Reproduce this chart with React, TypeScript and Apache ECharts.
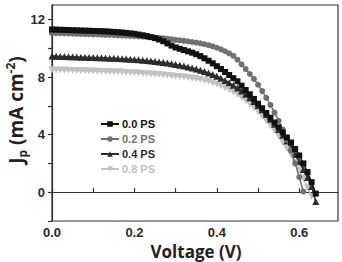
import React, { useEffect, useRef } from "react";
import * as echarts from "echarts";

const voltage = [
  0.0, 0.01, 0.02, 0.03, 0.04, 0.05, 0.06, 0.07, 0.08, 0.09,
  0.1, 0.11, 0.12, 0.13, 0.14, 0.15, 0.16, 0.17, 0.18, 0.19,
  0.2, 0.21, 0.22, 0.23, 0.24, 0.25, 0.26, 0.27, 0.28, 0.29,
  0.3, 0.31, 0.32, 0.33, 0.34, 0.35, 0.36, 0.37, 0.38, 0.39,
  0.4, 0.41, 0.42, 0.43, 0.44, 0.45, 0.46, 0.47, 0.48, 0.49,
  0.5, 0.51, 0.52, 0.53, 0.54, 0.55, 0.56, 0.57, 0.58, 0.59,
  0.6, 0.61, 0.62, 0.63, 0.64,
];

const ps00 = [
  11.3, 11.29, 11.28, 11.27, 11.26, 11.25, 11.24, 11.23, 11.22, 11.21,
  11.2, 11.19, 11.18, 11.17, 11.15, 11.13, 11.11, 11.09, 11.06, 11.03,
  11.0, 10.95, 10.9, 10.84, 10.77, 10.7, 10.6, 10.48, 10.33, 10.18,
  10.05, 9.96, 9.87, 9.78, 9.69, 9.58, 9.45, 9.3, 9.13, 8.95,
  8.75, 8.55, 8.35, 8.14, 7.92, 7.7, 7.4, 7.1, 6.8, 6.48,
  6.15, 5.83, 5.5, 5.17, 4.84, 4.5, 4.15, 3.8, 3.45, 3.0,
  2.55, 2.0, 1.4, 0.7, -0.1,
];

const ps02 = [
  11.05, 11.04, 11.04, 11.03, 11.02, 11.01, 11.0, 10.99, 10.98, 10.97,
  10.96, 10.95, 10.94, 10.93, 10.92, 10.91, 10.89, 10.88, 10.87, 10.85,
  10.84, 10.82, 10.8, 10.78, 10.76, 10.74, 10.72, 10.69, 10.66, 10.62,
  10.58, 10.55, 10.51, 10.47, 10.43, 10.39, 10.34, 10.28, 10.21, 10.13,
  10.03, 9.92, 9.79, 9.64, 9.47, 9.2, 8.88, 8.55, 8.21, 7.86,
  7.46, 7.02, 6.55, 6.06, 5.53, 4.96, 4.34, 3.65, 2.88, 2.0,
  1.05, 0.05,
];

const ps04 = [
  9.45, 9.44, 9.43, 9.42, 9.41, 9.4, 9.39, 9.38, 9.37, 9.36,
  9.35, 9.34, 9.33, 9.32, 9.31, 9.3, 9.28, 9.27, 9.25, 9.23,
  9.21, 9.19, 9.17, 9.14, 9.11, 9.08, 9.05, 9.01, 8.97, 8.92,
  8.87, 8.82, 8.76, 8.7, 8.63, 8.55, 8.47, 8.38, 8.28, 8.17,
  8.05, 7.91, 7.76, 7.6, 7.42, 7.23, 7.02, 6.8, 6.56, 6.3,
  6.02, 5.72, 5.4, 5.07, 4.72, 4.35, 3.96, 3.55, 3.1, 2.62,
  2.12, 1.58, 1.02, 0.4, -0.65,
];

const ps08 = [
  8.5, 8.49, 8.49, 8.48, 8.47, 8.46, 8.45, 8.44, 8.43, 8.42,
  8.41, 8.4, 8.39, 8.38, 8.37, 8.36, 8.35, 8.34, 8.32, 8.31,
  8.29, 8.27, 8.25, 8.23, 8.21, 8.19, 8.17, 8.14, 8.12, 8.09,
  8.06, 8.03, 8.0, 7.96, 7.92, 7.87, 7.82, 7.76, 7.68, 7.6,
  7.5, 7.39, 7.26, 7.12, 6.96, 6.78, 6.58, 6.36, 6.12, 5.86,
  5.58, 5.28, 4.96, 4.62, 4.26, 3.88, 3.47, 3.04, 2.57, 2.07,
  1.54, 0.96, 0.3, -0.3,
];

const seriesNames = ["0.0 PS", "0.2 PS", "0.4 PS", "0.8 PS"];
const seriesValues = [ps00, ps02, ps04, ps08];
const xTickLabels = ["0.0", "0.2", "0.4", "0.6"];
const yTickLabels = ["0", "4", "8", "12"];

const colors = ["#111111", "#707070", "#2c2c2c", "#c2c2c2"];
const legendTextColors = ["#111111", "#707070", "#2c2c2c", "#c0c0c0"];
const symbols = ["rect", "circle", "triangle", "triangle"];
const rotates = [0, 0, 0, 180];
const sizes = [6, 6, 7, 7];

export default function App() {
  const ref = useRef<HTMLDivElement>(null);
  useEffect(() => {
    if (!ref.current) return;
    const chart = echarts.init(ref.current, undefined, { renderer: "svg" });
    const tickFont = {
      fontFamily: "Liberation Sans",
      fontWeight: "bold" as const,
      fontSize: 13,
      lineHeight: 13,
      color: "#2a2a2a",
    };
    const series: any[] = seriesNames.map((name, i) => ({
      name,
      type: "line",
      data: seriesValues[i].map((j, k) => [voltage[k], j]),
      symbol: symbols[i],
      symbolRotate: rotates[i],
      symbolSize: sizes[i],
      showAllSymbol: true,
      lineStyle: { color: colors[i], width: 1.5 },
      itemStyle: { color: colors[i] },
      z: 10 - i,
    }));
    series[0].markLine = {
      silent: true,
      symbol: ["none", "none"],
      label: { show: false },
      lineStyle: { color: "#333", width: 1.2, type: "solid" },
      data: [{ yAxis: 0 }],
      z: 1,
    };
    chart.setOption({
      animation: false,
      backgroundColor: "#fff",
      grid: {
        left: 52,
        right: 4,
        top: 5,
        bottom: 41,
        show: true,
        borderColor: "#333",
        borderWidth: 1.2,
      },
      legend: {
        orient: "vertical",
        left: 100,
        top: 118,
        itemWidth: 18,
        itemHeight: 7,
        itemGap: 3,
        padding: 0,
        data: seriesNames.map((n, i) => ({
          name: n,
          textStyle: { color: legendTextColors[i] },
        })),
        textStyle: {
          fontFamily: "Liberation Sans",
          fontWeight: "bold",
          fontSize: 11,
          lineHeight: 12,
          padding: [0, 0, 0, -2],
        },
      },
      xAxis: {
        type: "value",
        min: 0,
        max: 0.694,
        interval: 0.1,
        axisLine: { show: true, lineStyle: { color: "#333", width: 1.2 } },
        axisTick: { show: true, inside: true, length: 4, lineStyle: { color: "#333", width: 1.2 } },
        splitLine: { show: false },
        axisLabel: {
          ...tickFont,
          margin: 5,
          showMaxLabel: false,
          formatter: (v: number) => {
            const s = v.toFixed(1);
            return xTickLabels.includes(s) && Math.abs(v - Number(s)) < 1e-6 ? s : "";
          },
        },
      },
      yAxis: {
        type: "value",
        min: -2,
        max: 13,
        interval: 2,
        axisLine: { show: true, lineStyle: { color: "#333", width: 1.2 } },
        axisTick: { show: true, inside: false, length: 4, lineStyle: { color: "#333", width: 1.2 } },
        splitLine: { show: false },
        axisLabel: {
          ...tickFont,
          margin: 7,
          showMaxLabel: false,
          formatter: (v: number) => {
            const s = String(Math.round(v));
            return yTickLabels.includes(s) && Math.abs(v - Math.round(v)) < 1e-6 ? s : "";
          },
        },
      },
      graphic: [
        {
          type: "text",
          x: 196,
          y: 251,
          style: {
            text: "Voltage (V)",
            fontFamily: "Open Sans",
            fontWeight: "bold",
            fontSize: 17,
            lineHeight: 17,
            fill: "#222",
            align: "center",
            verticalAlign: "middle",
          },
        },
        {
          type: "text",
          x: 16,
          y: 110,
          rotation: Math.PI / 2,
          style: {
            text: "{a|J}{s|p}{a| (mA cm}{u|-2}{a|)}",
            align: "center",
            verticalAlign: "middle",
            fill: "#222",
            rich: {
              a: { fontFamily: "Open Sans", fontWeight: "bold", fontSize: 19, lineHeight: 24, fill: "#222" },
              s: { fontFamily: "Open Sans", fontWeight: "bold", fontSize: 12, lineHeight: 12, verticalAlign: "bottom", fill: "#222" },
              u: { fontFamily: "Open Sans", fontWeight: "bold", fontSize: 12, lineHeight: 12, verticalAlign: "top", fill: "#222" },
            },
          },
        },
      ],
      series,
    });
    return () => chart.dispose();
  }, []);
  return (
    <div
      ref={ref}
      style={{ position: "fixed", left: 0, top: 0, width: 342, height: 262 }}
    />
  );
}
